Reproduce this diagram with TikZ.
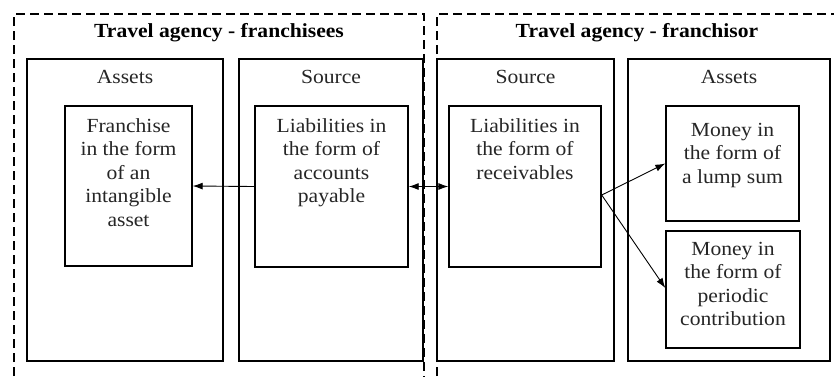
\documentclass[tikz,border=0pt]{standalone}
\usepackage{fontspec}
\setmainfont{Liberation Serif}[FakeStretch=1.08]
\usetikzlibrary{arrows.meta}
\begin{document}
\begin{tikzpicture}[x=1pt,y=-1pt,
  dashbox/.style={draw, line width=1.4pt, dash pattern=on 9pt off 5pt},
  box/.style={draw, line width=1.4pt, inner sep=0pt, rectangle},
  txt/.style={font=\fontsize{20}{23.5}\selectfont, align=center, inner sep=0pt, anchor=north, text=black!85},
  ttl/.style={font=\fontsize{20}{23.5}\selectfont\bfseries, inner sep=0pt},
  hdr/.style={font=\fontsize{20}{23.5}\selectfont, inner sep=0pt, text=black!85},
  arr/.style={line width=0.9pt, -{Latex[length=10pt,width=7pt]}}
]
\useasboundingbox (0,0) rectangle (834,376);
\clip (0,0) rectangle (834,376);
\fill[white] (0,0) rectangle (834,376);

% dashed frames
\draw[dashbox] (14,390) -- (14,14) -- (424,14) -- (424,390);
\draw[dashbox] (437,390) -- (437,14) -- (850,14) -- (850,390);

\node[ttl] (t1) at (219,33) {Travel agency - franchisees};
\node[ttl] (t2) at (637,33) {Travel agency - franchisor};

% columns
\node[box, minimum width=196pt, minimum height=302pt] (la) at (125,210) {};
\node[box, minimum width=184pt, minimum height=302pt] (ls) at (331,210) {};
\node[box, minimum width=177pt, minimum height=302pt] (rs) at (525.5,210) {};
\node[box, minimum width=202pt, minimum height=302pt] (ra) at (729,210) {};

\node[hdr] (h1) at (125,77) {Assets};
\node[hdr] (h2) at (331,77) {Source};
\node[hdr] (h3) at (525.5,77) {Source};
\node[hdr] (h4) at (729,77) {Assets};

% inner boxes
\node[box, minimum width=127pt, minimum height=160pt] (fr) at (128.5,186) {};
\node[box, minimum width=153pt, minimum height=161pt] (ap) at (331.5,186.5) {};
\node[box, minimum width=152pt, minimum height=161pt] (rc) at (525,186.5) {};
\node[box, minimum width=133pt, minimum height=115pt] (lu) at (732.5,163.5) {};
\node[box, minimum width=134pt, minimum height=117pt] (pc) at (733,289.5) {};

\node[txt] (frt) at (128.5,118) {Franchise\\in the form\\of an\\intangible\\asset};
\node[txt] (apt) at (331.5,118) {Liabilities in\\the form of\\accounts\\payable};
\node[txt] (rct) at (525,118) {Liabilities in\\the form of\\receivables};
\node[txt] (lut) at (732.5,123) {Money in\\the form of\\a lump sum};
\node[txt] (pct) at (733,242) {Money in\\the form of\\periodic\\contribution};

% connectors
\draw[arr] (ap.west) -- (fr.east);
\draw[line width=0.9pt, {Latex[length=10pt,width=7pt]}-{Latex[length=10pt,width=7pt]}] (ap.east) -- (rc.west);
\draw[arr] ([yshift=-8.5pt]rc.east) -- (lu.west);
\draw[arr] ([yshift=-8.5pt]rc.east) -- ([yshift=1.5pt]pc.west);
\end{tikzpicture}
\end{document}
